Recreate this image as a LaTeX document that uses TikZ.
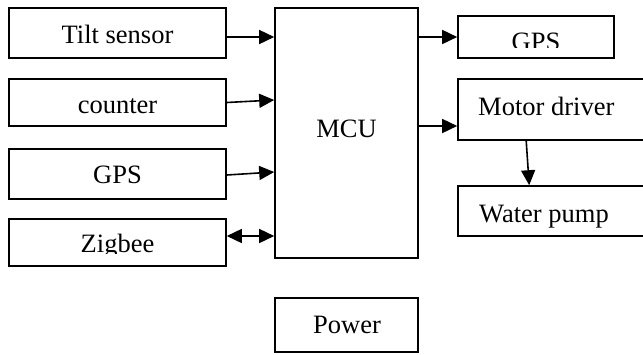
\documentclass[tikz,border=0pt]{standalone}
\usepackage{fontspec}
\setmainfont{Liberation Serif}
\usetikzlibrary{arrows.meta}
\begin{document}
\begin{tikzpicture}[x=1pt,y=-1pt,
  box/.style={draw=black,line width=1.6pt,fill=white,rectangle,inner sep=0pt},
  lbl/.style={inner sep=0pt,font=\fontsize{26.5}{30}\selectfont},
  arr/.style={line width=1.6pt,-{Triangle[length=15pt,width=14pt]}},
  darr/.style={line width=1.6pt,{Triangle[length=15pt,width=14pt]}-{Triangle[length=15pt,width=14pt]}}]
\useasboundingbox (0,0) rectangle (643,354);
\clip (0,0) rectangle (643,354);
% boxes
\node[box,minimum width=217pt,minimum height=50pt] (tilt) at (117.5,33) {};
\node[box,minimum width=217pt,minimum height=47pt] (counter) at (117.5,102.5) {};
\node[box,minimum width=217pt,minimum height=50pt] (gpsl) at (117.5,174) {};
\node[box,minimum width=217pt,minimum height=47pt] (zig) at (117.5,242.5) {};
\node[box,minimum width=143pt,minimum height=250pt] (mcu) at (346.5,133) {};
\node[box,minimum width=156pt,minimum height=42pt] (gpsr) at (536,37) {};
\node[box,minimum width=200pt,minimum height=61pt] (motor) at (558,109.5) {};
\node[box,minimum width=200pt,minimum height=50pt] (water) at (558,211) {};
\node[box,minimum width=143pt,minimum height=54pt] (power) at (346.5,325) {};
% labels
\node[lbl,anchor=base] (ttilt) at (117.5,43) {Tilt sensor};
\node[lbl,anchor=base] (tcounter) at (117.5,113) {counter};
\node[lbl,anchor=base] (tgpsl) at (117.5,183) {GPS};
\begin{scope}
\clip (9,219) rectangle (226,253.5);
\node[lbl,anchor=base] (tzig) at (117.5,252.5) {Zigbee};
\end{scope}
\node[lbl,anchor=base] (tmcu) at (346.5,137) {MCU};
\begin{scope}
\clip (458,16) rectangle (614,47);
\node[lbl,anchor=base] (tgpsr) at (536,50.5) {GPS};
\end{scope}
\node[lbl,anchor=base west] (tmotor) at (478,115) {Motor driver};
\node[lbl,anchor=base west] (twater) at (479,222) {Water pump};
\node[lbl,anchor=base] (tpower) at (347,333) {Power};
% connectors
\draw[arr] ([yshift=-4pt]tilt.east) -- ([yshift=96pt]mcu.west);
\draw[arr] (counter.east) -- ([yshift=33pt]mcu.west);
\draw[arr] ([yshift=-1pt]gpsl.east) -- ([yshift=-39pt]mcu.west);
\draw[darr] ([yshift=6.5pt]zig.east) -- ([yshift=-103pt]mcu.west);
\draw[arr] ([yshift=96pt]mcu.east) -- (gpsr.west);
\draw[arr] ([yshift=7pt]mcu.east) -- ([yshift=-16.5pt]motor.west);
\draw[arr] ([xshift=69pt]motor.south west) -- ([xshift=72pt]water.north west);
\end{tikzpicture}
\end{document}
